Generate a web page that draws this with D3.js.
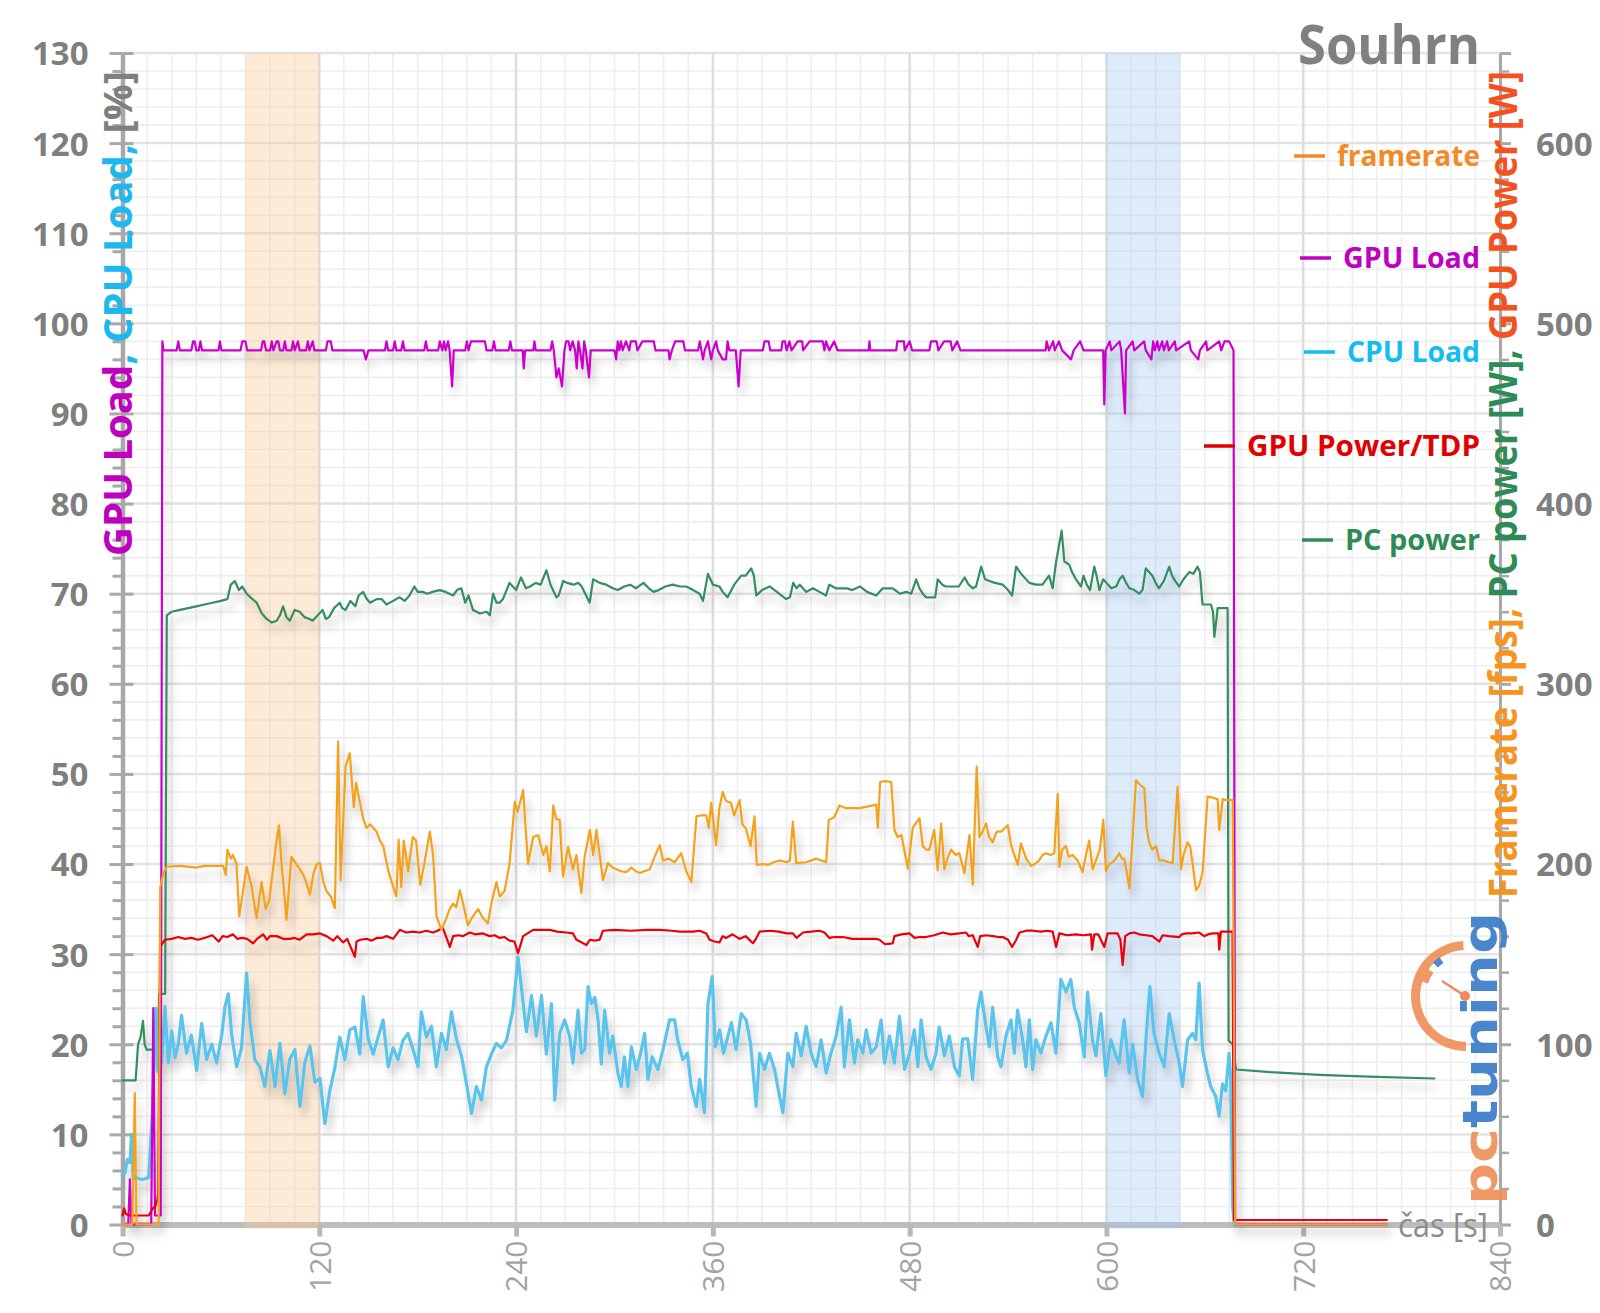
<!DOCTYPE html>
<html><head><meta charset="utf-8">
<script src="https://cdn.jsdelivr.net/npm/d3@7"></script>
<style>body{margin:0;background:#fff}svg{display:block}</style>
</head><body>
<svg id="c" width="1600" height="1313"></svg>
<script>
// ---------------- DATA ----------------
const xTicks = [0,120,240,360,480,600,720,840];
const leftTicks = [0,10,20,30,40,50,60,70,80,90,100,110,120,130];
const rightTicks = [0,100,200,300,400,500,600];
const chartTitle = "Souhrn";
const xTitle = "čas [s]";
const shadeOrange = [75,120];
const shadeBlue = [600,645];
const seriesNames = ["framerate","GPU Load","CPU Load","GPU Power/TDP","PC power"];

// framerate [fps] : [time s, value]
const framerate = [[0,0],[6,0],[7.5,73],[8.5,0],[22,0],[23,187],[25,195],[27,198.5],[35,199],[45,198],[50,199],[55,199],[61.4,199],[63,194],[64,208],[66,203],[67.3,205],[69.5,200],[71.2,171],[73.5,185],[75.7,198.5],[78.7,187.5],[80,180],[81.8,170],[84.8,190],[87.3,175],[89.5,180],[91.5,195],[93.5,210],[95.4,221.5],[97,200],[98.5,185],[100,169],[103,204],[106,200],[110,194.5],[112,190],[114.3,183],[116.5,195],[118.5,200],[120.4,200.5],[122.5,190],[124.4,185],[127,182],[129.5,175.5],[131.5,268],[133,191],[136,254],[138.6,261.5],[141,231.5],[142.5,245],[143.7,239],[146.8,225],[148.8,220],[151,222],[154.9,218],[157,213],[159,210],[162,196.5],[165,187.5],[167,182],[168.4,213.5],[170,187],[171.5,213],[174.2,196],[177,215],[179,213],[181.6,188.5],[184,200],[187.4,218],[189.4,205],[191.5,171],[194.5,163.5],[197.5,170],[199.5,175],[201.6,178],[203.5,176],[205.7,185.5],[207.7,178],[210.7,166],[213,170],[216.8,175],[219.8,170],[222.8,167],[224.9,178],[228,190],[230,182],[233,185],[236,200],[239.2,234.5],[241,229],[244.3,241],[247.3,200],[250.4,215],[253.5,216],[256.6,205],[258.5,210],[260.6,196],[262.7,232.5],[264.5,225],[266.6,224.5],[268.6,193],[271.7,209.5],[274.7,197],[276.8,205],[279.8,184],[281.8,204],[285,219],[287,205],[289,219],[291,205],[293,191],[296,200.5],[299,198],[301.6,197],[304,196],[307.2,195.5],[310.3,198],[313,196],[315.4,195],[318,196],[321.5,197],[324.5,204],[327.6,210.5],[329.6,202],[333,203],[336.7,201],[340.7,206],[343.8,196],[346.9,190],[350,226.5],[353,227],[356,227],[357.5,220],[359,234],[362,210.5],[364,231],[366,240],[368,235],[371,234],[373,227],[376.3,235.5],[378,222],[380,220],[383,210],[385.4,226.5],[386.8,199.5],[390.5,200],[393.6,199.5],[397,201],[400.7,202],[405,201],[407,202],[408.8,223.5],[410.8,200.5],[417,201],[423,203],[429.1,201],[430.7,224.5],[434,226],[437.2,232.5],[441.3,231],[445,231],[449.4,231],[455,232],[459.6,233],[460.6,220],[462,245.5],[465,246],[468.8,245.5],[470.7,219],[472.7,215],[475,216],[478.9,197.5],[481.9,220],[484,223],[486,225.5],[488,210],[490,208],[492,208],[495,219],[497.1,196.5],[499.2,222.5],[501.2,197],[503,203],[505.3,208],[508,205],[510.3,206],[513.4,195],[516.5,216],[518.5,188.5],[520.9,254],[522.6,215],[524.5,218],[526.6,222.5],[528.5,215],[530.7,212],[533,218],[535.8,218],[539.8,221.5],[542,210],[545.9,199.5],[547.9,211.5],[551,203],[554,199],[556.5,200],[559,202],[561,205],[563.1,206],[566,205],[568.2,206],[570.3,239],[571.3,198.5],[573,208],[575.3,210],[577,204],[579.4,205],[582.4,202],[585.5,195.5],[587.5,205],[589.5,213],[591.6,197],[594,203],[596,208],[598.1,224.5],[599.7,196],[601.7,200],[603.7,201],[605.8,203],[607.8,206],[609.5,203],[610.8,203],[612.5,195],[614,186.5],[616,215],[618,246.5],[620.5,244],[623.1,242],[624.5,220],[626.2,211.5],[628,208],[630.2,210],[632.3,202],[635,202],[638,201],[640.4,200.5],[643.4,243],[645.5,197],[647,205],[649.5,212],[651,210],[652.6,200],[654.6,185.5],[656.5,188],[658.6,195],[661.7,237.5],[664,237],[667.8,236],[668.8,219],[670.9,236],[673,235.5],[677,235.5],[678.5,0],[771,0]];

// GPU Load [%]
const gpuLoad = [[0,0],[3.5,0],[4.5,5],[5.5,0],[17.5,0],[18.8,24],[19.8,1],[23.3,1],[24.3,98],[25,97],[33,97],[34,98],[35,97],[42,97],[43,98],[44,98],[45,97],[46.5,97],[47.5,98],[48.5,97],[58.5,97],[59.4,98],[60.3,97],[72,97],[73,98],[75,98],[76,97],[84.5,97],[85.5,98],[86.5,98],[87.5,97],[90,97],[91,98],[92,97],[94,98],[95,98],[96,97],[98,97],[99,98],[100,97],[103,97],[104,98],[105,97],[107,98],[108,97],[112,97],[113,98],[114,97],[116,98],[117,97],[124,97],[125,98],[127,98],[128,97],[147,97],[148.4,96],[150,97],[160,97],[161,98],[162,97],[165,97],[166,98],[167,97],[170,97],[171,98],[172,97],[184,97],[185,98],[186,97],[192.5,97],[193.5,98],[195,97],[196,98],[197,97],[198.5,98],[199.5,97],[201,93],[202,97],[209,97],[210,98],[211,97],[212.5,98],[221,98],[222,97],[225.5,97],[226.5,98],[227.5,97],[235.5,97],[236.5,98],[237.5,97],[244,97],[244.7,95],[245.5,97],[250.5,97],[251.2,98],[252,97],[261,97],[262,98],[263,97],[264.6,94],[266,95],[268,93],[269.5,97],[270.5,98],[272,98],[273,97],[274.5,98],[276,97],[277,95],[278,98],[279,97],[280.5,95],[281.5,98],[282.5,97],[284.5,94],[285.5,97],[300,97],[301,96],[302,98],[303,97],[304,98],[305,97],[307,98],[309,97],[310,98],[313,98],[314,97],[317,98],[324,98],[325,97],[333,97],[333.6,96],[335,97],[337,98],[342,98],[343,97],[351,97],[352,98],[353,97],[354,96],[355,97],[357,98],[358,97],[359,96],[360,97],[362,98],[363,97],[366,96],[368,96],[369,98],[370,97],[374,97],[375.7,93],[377,97],[390.5,97],[391.5,98],[394,98],[395,97],[401.7,97],[402.5,98],[404,98],[405,97],[406.7,98],[408,97],[411.7,98],[414.5,98],[415,97],[419,98],[427,98],[428,97],[429,98],[431,97],[434,98],[436,97],[455,97],[455.5,98],[456,97],[471.8,97],[472.5,98],[476.5,98],[477,97],[480,98],[481.5,97],[492,97],[493,98],[496.5,98],[497.5,97],[501,98],[505,98],[506,97],[509,98],[511,97],[563,97],[563.5,98],[565,97],[567.5,98],[568.5,97],[571,98],[573,97],[578.4,96],[580,97],[584,98],[586,97],[598,97],[598.7,91],[599.5,97],[602,98],[603,97],[608,98],[609,97],[611.3,90],[612,97],[616,98],[617,97],[623,98],[624,97],[627.4,96],[628.5,98],[629.5,97],[631,98],[632,97],[634,98],[635,97],[637,98],[638,97],[641.7,98],[642.5,97],[650.5,98],[651.5,97],[656,96],[657,97],[660.8,98],[661.5,97],[668.8,98],[670,97],[672,98],[674.8,98],[677.5,97],[678.5,0],[771,0]];

// CPU Load [%]
const cpuLoad = [[0,5.5],[1.5,5.7],[3,7.2],[4.6,6.9],[5.5,10],[6.5,5],[8,5.2],[12,5],[16,5.2],[17.4,10],[18,11.4],[19.8,21],[20.5,24],[21.5,17],[22.9,19],[23.9,17.9],[25.9,24.2],[27.9,17.9],[30,21.5],[32,18.5],[34,20],[36,23.2],[39,19],[42,21],[45.2,17.1],[48.3,22.3],[51.3,18.3],[54.4,20],[57.4,17.9],[60.5,21],[62.5,24.2],[64.5,25.6],[66.6,21],[69.6,17.5],[72.6,19.6],[75.7,27.9],[77.7,22.5],[80.7,18.3],[83.8,17.5],[86.8,15.3],[89.9,19.3],[93,15.3],[96,20.1],[99,14.5],[102,18.3],[105.1,19.4],[108.2,13.1],[111.2,18],[114.3,19.8],[117.3,15.8],[120.4,16.2],[123.4,11.2],[126.4,14.8],[129.5,17.4],[132.5,20.8],[135.6,18.3],[138.6,21.6],[141.7,21.9],[144.7,18.9],[146.8,25.3],[149.8,20.6],[152.9,18.9],[155.9,20.8],[158.9,22.7],[162,17.5],[165,19.6],[168,18.3],[171,20.4],[174.1,21.2],[177.2,19.4],[180.2,17.5],[182.2,23.6],[185.3,20.8],[188.4,22],[191.4,17.5],[194.5,21.2],[197.5,19.4],[200.6,23.6],[203.6,20.6],[206.7,18.7],[209.7,15.7],[212.8,12.3],[215.8,15.3],[218.9,13.8],[221.9,17.5],[225,18.9],[228,20.1],[231,19.6],[234.1,20.4],[238.1,23.8],[241.2,29.7],[243.3,26.2],[246.3,21.4],[249.4,25.4],[252.4,20.9],[255.5,25.4],[258.5,18.9],[261.6,24.5],[263.6,13.8],[266.6,21.2],[269.6,22.7],[272.7,20.9],[274.7,17.9],[277.8,23.8],[279.8,19],[281.9,19.4],[283.9,26.4],[285.9,24.5],[288,25.2],[290,22.7],[292,17.8],[294,23.8],[297,19],[299,20.9],[302.1,16.8],[304.2,15.3],[306,18.6],[308.2,15.3],[310.3,19.7],[313.3,17.2],[316,19],[318.4,21.2],[320.4,16.1],[323,18.6],[326.5,17.2],[329.6,19.4],[333.6,22.7],[336.7,22.7],[338.5,20.5],[341.7,18.3],[344.5,19],[346.8,15.3],[349.9,13.1],[352,16.1],[354.9,12.4],[357,24.5],[359.6,27.5],[361.5,19.7],[364.1,21.6],[366.5,19],[369.2,20.9],[371.3,22.4],[374.2,19.4],[377.3,23.4],[380.3,22.7],[383,20.1],[386.4,13.1],[388.5,19],[391.5,17.2],[394.5,19],[397.6,17.2],[400.7,14.2],[402.7,12.4],[405.7,19],[408.8,17.5],[410.8,21.2],[413.9,18.7],[416.9,22],[419.9,19],[423,17.5],[426,20.5],[429.1,16.8],[432,19],[435.2,20.9],[438.2,24.1],[440.2,17.5],[443.3,22.7],[446.3,17.9],[448.4,20.5],[451.5,19],[453.5,21.6],[456.5,19],[459.6,19.7],[462.6,22.7],[464.7,17.9],[467.7,20.9],[470.7,17.9],[473.8,23.1],[476.9,17.2],[479.9,19],[482.9,21.6],[485,17.5],[487,22.7],[490,18.6],[493,17.2],[496.1,19],[498,21.9],[501.2,18.7],[504.2,20.9],[507.3,17.5],[510.3,16.5],[512.3,20.6],[515.4,20.6],[518.4,16.1],[521.5,23.8],[523.5,25.8],[526.6,21.9],[528.6,19.7],[530.6,24.1],[533.7,18.6],[535.7,17.5],[538.7,20.9],[541.8,22.7],[543.8,19],[545.8,23.8],[548.9,20.5],[550.9,17.5],[553,22.7],[555,17.2],[557,20.5],[560,19],[563.1,20.9],[566.2,22.4],[569.2,19],[572.2,27.2],[575.3,25.8],[578.3,27.2],[580.4,24.1],[583.4,22.4],[586.5,18.6],[588.5,25.8],[591.5,20.5],[593.6,18.7],[596.6,23.4],[599.7,16.5],[602.7,20.5],[605.8,18.7],[607.8,17.9],[610.8,22.7],[613.9,16.8],[616,20],[619,16.1],[622,14.2],[624.1,20.5],[626.5,26.4],[629,21.2],[632.2,19],[635.2,17.5],[638.3,23.4],[641.3,20.5],[644.4,17.9],[646.4,15.3],[649.5,20.5],[652.5,21.2],[654.5,20.5],[656.5,26.8],[658.6,19.4],[661.6,16.8],[663.6,15.3],[666.7,14.2],[668.7,12],[670.8,15.6],[672.8,14.8],[674.8,19],[675.8,16.1],[677,2],[678,0]];

// GPU Power [W]
const gpuPower = [[0,5],[1,9],[2,6],[4,5],[10,5],[16,5],[18.5,9],[20,10],[21.3,14],[21.8,17.5],[22.9,154],[25.9,158],[30,158.5],[34,159.5],[38,158.5],[42,159],[46,158],[50,159],[54.7,160.5],[58.7,157],[61,160],[64,159.5],[67.3,161],[70,158.5],[73,159],[76,158.5],[79.7,156],[82,158.5],[85.8,161],[88,158],[90,160],[94,160],[98,158.5],[102,158.5],[105,159],[108,158],[112.3,161],[116,161],[120.4,161.5],[124.4,160],[128.5,157.5],[131,160],[134.6,156.5],[137,158.5],[141.7,148.5],[142.7,157],[145,158],[148.8,158.5],[152,157.5],[155,159],[158,159],[161,160],[165,158.5],[169.1,163.5],[173,162],[177.2,162.5],[181,162],[185.3,163],[189.4,162],[192,163],[195.4,164.5],[199.6,154],[201.6,160],[205,160.5],[207.7,160],[211.7,162],[215,161],[219.8,161.5],[223.9,160],[227,160.5],[230,159],[233,159.5],[236,157.5],[239,157],[241.2,150.5],[244.3,160],[247,161.5],[250.4,163.5],[255,163.5],[260.6,163.5],[265,162.5],[270.7,162],[274.7,161.5],[276.8,158],[279,157],[282.9,155],[285,158],[288,157.5],[291,158],[293,163],[300,163.5],[310,163],[320,163.5],[327.6,163.5],[335,163],[340,162.5],[347.9,162.5],[352,163],[356,161.5],[358,158],[361,157],[364,156.5],[366,160],[368,159],[372,161],[376.3,158.5],[380,160],[384.4,156],[386,158],[388.5,162.5],[395,163],[400,162.5],[405,161.5],[408.8,161.5],[411,159],[415,162],[420,162.5],[425,163],[428,162],[431.1,159],[434,159.5],[439.2,159.5],[445,158.5],[459.6,158.5],[461.6,158],[465,155.5],[469.7,156],[470.7,160],[475,161],[479.9,161.5],[483,159],[486,159.5],[490,159.5],[495,160.5],[500.2,162],[505,161],[510.3,161.5],[514.4,162],[516,160],[518.5,160.5],[521.5,154],[523,160],[527,160.5],[530.7,160],[534,159.5],[536.8,159.5],[540,158],[542.5,154],[545,158],[547,162],[551,163],[555,163],[560,162.5],[564,163],[567.2,162.5],[569.3,154],[571.3,161.5],[576,160.5],[581.4,161],[586,160.5],[590.6,161],[591.2,152.5],[592.6,161],[595,161],[598.7,154],[600.7,161.5],[606.8,161.5],[608.5,158],[609.9,144],[611.5,160],[614,161.5],[617,162],[620,161],[624.2,160.5],[628,160],[632.3,157],[634.3,160.5],[638,160],[644.4,159.5],[646,161],[648.5,161.5],[652,161.5],[656.6,162],[659.6,160],[662,161],[664.7,161.5],[668.3,161.5],[668.8,152.5],[669.8,162.5],[676.9,162.5],[677.8,2.5],[771,2.5]];

// PC power [W]
const pcPower = [[0,80],[8,80],[9.5,100],[11,104],[12.5,113],[13.5,100],[14.7,97],[21.8,97],[22.3,128],[26,128],[27,338],[30,340],[35,341],[40,342],[45,343],[50,344],[55,345],[60,346],[64,347],[66,355],[68.5,357],[71,352],[73,354],[75.7,350],[78,348],[81.8,345],[85,339],[87.9,336],[91,334],[94,335],[96,338],[97.9,343],[100,337],[102,335],[105,341],[108,340],[111,337],[114,336],[116,335],[119,338],[122,341],[124,336],[126,337],[129,342],[132.5,345],[134,342],[136,341],[139,346],[142,343],[144,349],[146.7,351],[149,347],[151,345],[155,347],[158,347],[161,344],[165,346],[169,348],[172,346],[175,349],[178,354],[180,351],[183,351],[186,350],[189,351],[193.5,352],[197,351],[201.6,349],[204,352],[206.6,353],[209,345],[211,349],[213.7,341],[218,339],[222,340],[224,338],[226,350],[228,345],[230,345],[232,347],[236,356],[240,352],[243,359],[246,353],[248.5,354],[252,356],[255,355],[258.5,363],[261,355],[264.6,348],[266,349],[268.7,357],[271,356],[275,355],[278,356],[280,354],[284.9,345],[287,358],[291,356],[295,355],[299,353],[302,352],[306,354],[309.6,355],[313,353],[317.7,356],[321,353],[323.8,351],[327,352],[331,354],[335.6,355],[340,354],[343.8,354],[348,352],[351.9,350],[354,346],[357,361],[359,357],[360,355],[364,354],[366,351],[369,348],[373,355],[377.3,360],[380,360],[383.4,364],[385,360],[386.5,349],[390,352],[394.6,354],[399,351],[404.7,347],[407,348],[409,356],[411,353],[413,355],[417,351],[421,353],[425,351],[429,349],[431,355],[435,353],[441.6,353],[445,352],[449.7,354],[454,351],[459.6,349],[463.6,353],[466,353],[469.7,353],[474,350],[478,351],[481,350],[484,358],[486,353],[488,350],[490,348],[495.6,348],[497.1,358],[500,355],[502,354],[506,354],[510,354],[513.5,359],[516,355],[518.6,353],[520.5,354],[523.6,365],[526,358],[528.6,357],[532,356],[536.8,355],[540,352],[542.5,349],[544.9,365],[548,361],[553,356],[557,355],[561,355],[565,360],[567.2,353],[569.2,367],[572.7,385],[574.3,368],[577.4,366],[579,362],[581.4,358],[584.5,354],[586,360],[588,355],[590,352],[592.6,365],[594,360],[595.7,352],[598,358],[600,356],[603,353],[606,354],[608,358],[609.9,360],[612,356],[614,353],[617,352],[620,350],[622,352],[624,364],[626,362],[628,360],[630,356],[632,353],[635,357],[638.3,365],[640,360],[642,357],[644.4,354],[647,358],[650.5,362],[653,361],[655.6,365],[657,362],[658.6,344],[663.7,344],[665,340],[665.8,326],[667,335],[667.8,342],[673.9,342],[674.5,102],[677,100],[679,86],[700,84.5],[730,83],[760,82],[800,81]];

// ---------------- CHART ----------------
const W = 1600, H = 1313;
const svg = d3.select('#c');
const FONT = "'Open Sans', 'Noto Sans', sans-serif";
const x = d3.scaleLinear().domain([0,840]).range([122.5,1500]);
const yL = d3.scaleLinear().domain([0,130]).range([1224.5,53]);
const yR = d3.scaleLinear().domain([0,650]).range([1224.5,53]);

const defs = svg.append('defs');
const flt = defs.append('filter').attr('id','sh').attr('filterUnits','userSpaceOnUse')
  .attr('x',0).attr('y',0).attr('width',W).attr('height',H);
flt.append('feGaussianBlur').attr('in','SourceAlpha').attr('stdDeviation',4).attr('result','b');
flt.append('feOffset').attr('in','b').attr('dx',4).attr('dy',9).attr('result','o');
flt.append('feComponentTransfer').attr('in','o').attr('result','s')
  .append('feFuncA').attr('type','linear').attr('slope',0.22);
const mg = flt.append('feMerge');
mg.append('feMergeNode').attr('in','s');
mg.append('feMergeNode').attr('in','SourceGraphic');

// grid
const grid = svg.append('g');
const minorX = d3.range(0,841,15).filter(t => t % 120 !== 0);
const minorY = d3.range(0,131,2).filter(v => v % 10 !== 0);
grid.selectAll('.vx').data(minorX).join('line')
  .attr('x1',d=>x(d)).attr('x2',d=>x(d)).attr('y1',yL(130)).attr('y2',yL(0))
  .attr('stroke','#eeeeee').attr('stroke-width',1.6);
grid.selectAll('.hy').data(minorY).join('line')
  .attr('y1',d=>yL(d)).attr('y2',d=>yL(d)).attr('x1',x(0)).attr('x2',x(840))
  .attr('stroke','#eeeeee').attr('stroke-width',1.6);
grid.selectAll('.hY').data(leftTicks).join('line')
  .attr('y1',d=>yL(d)).attr('y2',d=>yL(d)).attr('x1',x(0)).attr('x2',x(840))
  .attr('stroke','#e2e2e2').attr('stroke-width',2.5);
grid.selectAll('.vX').data(xTicks).join('line')
  .attr('x1',d=>x(d)).attr('x2',d=>x(d)).attr('y1',yL(130)).attr('y2',yL(0))
  .attr('stroke','#dcdde3').attr('stroke-width',2.5);

// axes
function styleAxis(g, color, w){
  g.select('.domain').attr('stroke',color).attr('stroke-width',w);
  g.selectAll('.tick line').attr('stroke',color).attr('stroke-width',3);
}
const gLm = svg.append('g').attr('transform',`translate(${x(0)},0)`)
  .call(d3.axisLeft(yL).tickValues(minorY).tickSize(10).tickSizeOuter(0).tickFormat(''));
gLm.select('.domain').remove();
gLm.selectAll('.tick line').attr('stroke','#a8a8a8').attr('stroke-width',3);
const gLi = svg.append('g').attr('transform',`translate(${x(0)},0)`)
  .call(d3.axisRight(yL).tickValues(leftTicks).tickSize(11).tickSizeOuter(0).tickFormat(''));
gLi.select('.domain').remove();
gLi.selectAll('.tick line').attr('stroke','#a8a8a8').attr('stroke-width',3);
const gL = svg.append('g').attr('transform',`translate(${x(0)},0)`)
  .call(d3.axisLeft(yL).tickValues(leftTicks).tickSize(13).tickSizeOuter(0).tickPadding(21));
styleAxis(gL,'#a8a8a8',4.5);
gL.selectAll('text').attr('font-family',FONT).attr('font-weight',700).attr('font-size',33)
  .attr('fill','#7f7f7f').attr('dy','0.36em');

const minorR = d3.range(0,651,20).filter(v => v % 100 !== 0);
const gRm = svg.append('g').attr('transform',`translate(${x(840)},0)`)
  .call(d3.axisRight(yR).tickValues(minorR).tickSize(9).tickSizeOuter(0).tickFormat(''));
gRm.select('.domain').remove();
gRm.selectAll('.tick line').attr('stroke','#a8a8a8').attr('stroke-width',2.5);
const gR = svg.append('g').attr('transform',`translate(${x(840)},0)`)
  .call(d3.axisRight(yR).tickValues(rightTicks.concat([650])).tickSize(11).tickSizeOuter(0).tickPadding(25)
    .tickFormat(d => d === 650 ? '' : d));
styleAxis(gR,'#a8a8a8',3);
gR.selectAll('text').attr('font-family',FONT).attr('font-weight',700).attr('font-size',33)
  .attr('fill','#7f7f7f').attr('dy','0.36em');

const gB = svg.append('g').attr('transform',`translate(0,${yL(0)})`)
  .call(d3.axisBottom(x).tickValues(xTicks).tickSize(12).tickSizeOuter(0));
styleAxis(gB,'#bdbdbd',6);
gB.selectAll('.tick line').attr('stroke-width',5).attr('stroke','#b8b8b8');
gB.selectAll('text').attr('font-family',FONT).attr('font-weight',400).attr('font-size',30)
  .attr('fill','#a3a3a3').attr('transform','rotate(-90)').attr('text-anchor','end')
  .attr('x',-16).attr('y',0).attr('dy','0.36em');

// shaded regions
svg.append('rect').attr('x',x(shadeOrange[0])).attr('width',x(shadeOrange[1])-x(shadeOrange[0]))
  .attr('y',yL(130)).attr('height',yL(0)-yL(130)+4).attr('fill','rgb(250,200,150)').attr('opacity',0.38);
svg.append('rect').attr('x',x(shadeBlue[0])).attr('width',x(shadeBlue[1])-x(shadeBlue[0]))
  .attr('y',yL(130)).attr('height',yL(0)-yL(130)+4).attr('fill','rgb(160,200,245)').attr('opacity',0.36);

// lines
const mk = ys => d3.line().x(d=>x(d[0])).y(d=>ys(d[1]));
const lines = svg.append('g').attr('filter','url(#sh)').attr('fill','none')
  .attr('stroke-linejoin','round').attr('stroke-linecap','round');
lines.append('path').datum(pcPower).attr('d',mk(yR)).attr('stroke','#358e5f').attr('stroke-width',2.2);
lines.append('path').datum(cpuLoad).attr('d',mk(yL)).attr('stroke','#5bc3ec').attr('stroke-width',3.2);
lines.append('path').datum(gpuLoad).attr('d',mk(yL)).attr('stroke','#cc00cc').attr('stroke-width',2.2);
lines.append('path').datum(gpuPower).attr('d',mk(yR)).attr('stroke','#e8000b').attr('stroke-width',2.2);
lines.append('path').datum(framerate).attr('d',mk(yR)).attr('stroke','#f4a21f').attr('stroke-width',2.2);

function fit(sel, target){
  const len = sel.node().getComputedTextLength();
  if (len > 0) sel.attr('textLength', target).attr('lengthAdjust','spacingAndGlyphs');
}

// axis titles
const lt = svg.append('text').attr('transform','translate(132,556) rotate(-90)')
  .attr('font-family',FONT).attr('font-weight',700).attr('font-size',40);
lt.append('tspan').attr('fill','#c000c0').text('GPU Load');
lt.append('tspan').attr('fill','#1cb8ee').text(', CPU Load, ');
lt.append('tspan').attr('fill','#7f7f7f').text('[%]');
fit(lt, 485);

const rt = svg.append('text').attr('transform','translate(1517,898) rotate(-90)')
  .attr('font-family',FONT).attr('font-weight',700).attr('font-size',40);
rt.append('tspan').attr('fill','#f7941d').text('Framerate [fps], ');
rt.append('tspan').attr('fill','#2e8b57').text('PC power [W], ');
rt.append('tspan').attr('fill','#f4511e').text('GPU Power [W]');
fit(rt, 827);

const tt = svg.append('text').attr('x',1480).attr('y',64).attr('text-anchor','end')
  .attr('font-family',FONT).attr('font-weight',700).attr('font-size',54).attr('fill','#808080').text(chartTitle);
fit(tt,182);

const xt = svg.append('text').attr('x',1488).attr('y',1237).attr('text-anchor','end')
  .attr('font-family',FONT).attr('font-weight',400).attr('font-size',33).attr('fill','#8c8c8c').text(xTitle);
fit(xt,90);

// legend
const legendColors = ['#f28a28','#c000c0','#12bdf0','#e00000','#2e8b57'];
const legendY = [156,258,352,446,540];
const legendW = [143,137,133,233,135];
seriesNames.forEach((n,i) => {
  const t = svg.append('text').attr('x',1480).attr('y',legendY[i]).attr('dy','0.36em')
    .attr('text-anchor','end').attr('font-family',FONT).attr('font-weight',700)
    .attr('font-size',28).attr('fill',legendColors[i]).text(n);
  fit(t, legendW[i]);
  const x0 = 1480 - legendW[i] - 12;
  svg.append('line').attr('x1',x0-31).attr('x2',x0).attr('y1',legendY[i]).attr('y2',legendY[i])
    .attr('stroke',legendColors[i]).attr('stroke-width',3.5);
});

// logo
const logo = svg.append('g').attr('opacity',0.92);
const arc = d3.arc();
logo.append('path').attr('transform','translate(1466,996)')
  .attr('d',arc({innerRadius:46,outerRadius:55,startAngle:-Math.PI,endAngle:-0.05}))
  .attr('fill','#f0915a');
logo.append('path').attr('transform','translate(1466,996)')
  .attr('d',arc({innerRadius:40,outerRadius:52,startAngle:-1.25,endAngle:-0.95}))
  .attr('fill','#f0915a');
logo.append('path').attr('transform','translate(1466,996)')
  .attr('d',arc({innerRadius:40,outerRadius:47,startAngle:-0.78,endAngle:-0.6}))
  .attr('fill','#3d7fca');
logo.append('line').attr('x1',1442).attr('y1',981).attr('x2',1465).attr('y2',996)
  .attr('stroke','#ef7f52').attr('stroke-width',2.5);
logo.append('circle').attr('cx',1465).attr('cy',996).attr('r',5).attr('fill','#ef7f52');
const lg = logo.append('text').attr('transform','translate(1497,1205) rotate(-90)')
  .attr('font-family',"'DejaVu Sans', sans-serif").attr('font-weight',700).attr('font-size',48);
lg.append('tspan').attr('fill','#f0915a').text('pc');
lg.append('tspan').attr('fill','#3a7cc9').text('tuning');
fit(lg, 293);
</script>
</body></html>
